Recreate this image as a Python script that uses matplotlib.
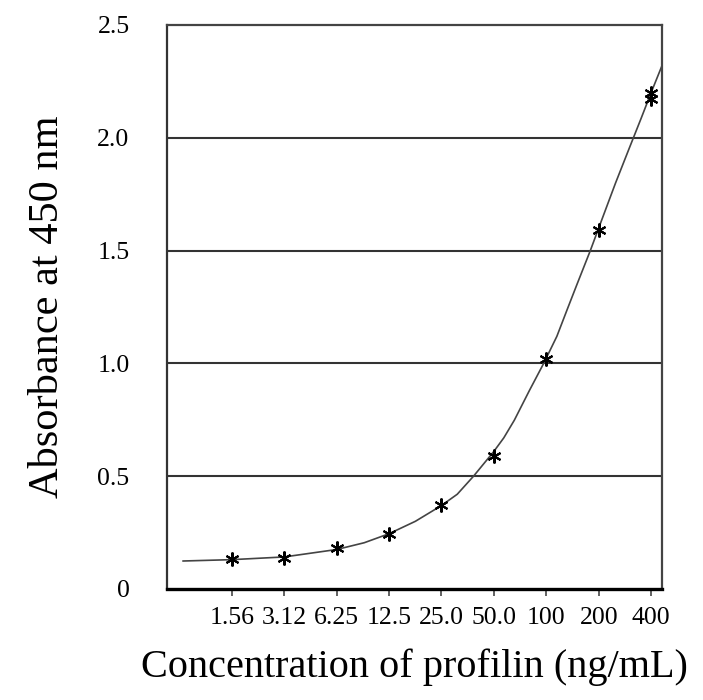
import matplotlib.pyplot as plt

plt.rcParams['font.family'] = ['Liberation Serif', 'DejaVu Serif']

# Standards (ng/mL) and tick labels
conc = [1.5625, 3.125, 6.25, 12.5, 25, 50, 100, 200, 400]
tick_labels = ['1.56', '3.12', '6.25', '12.5', '25.0', '50.0', '100', '200', '400']

# Measured absorbance (two replicates read at 400)
pt_x = [1.5625, 3.125, 6.25, 12.5, 25, 50, 100, 200, 400, 400]
pt_y = [0.131, 0.136, 0.18, 0.242, 0.372, 0.589, 1.02, 1.59, 2.20, 2.17]

# Fitted curve
curve_x = [0.82, 1.5625, 3.125, 6.25, 9.0, 12.5, 17.7, 25, 30.8, 38.2, 50, 57,
           65.5, 80, 96.6, 115, 132, 150, 179, 200, 250, 300, 350, 400, 462]
curve_y = [0.124, 0.13, 0.142, 0.175, 0.205, 0.245, 0.30, 0.37, 0.42, 0.50, 0.61,
           0.67, 0.748, 0.88, 1.0, 1.12, 1.24, 1.35, 1.5, 1.6, 1.8, 1.955, 2.085,
           2.2, 2.32]

fig = plt.figure(figsize=(7.03, 7.0), dpi=100)
ax = fig.add_axes([0.2376, 0.1586, 0.7041, 0.8057])

ax.set_xscale('log', base=2)
ax.set_xlim(0.663, 462)
ax.set_ylim(0, 2.5)

for g in [0.5, 1.0, 1.5, 2.0]:
    ax.axhline(g, color='#333333', linewidth=1.5, zorder=1)

ax.plot(curve_x, curve_y, color='#444444', linewidth=1.2, zorder=2)
ax.plot(pt_x, pt_y, linestyle='none', marker=(6, 2, 0), markersize=10,
        markeredgewidth=1.5, color='black', zorder=3)

ax.set_xticks(conc)
ax.set_xticklabels(tick_labels)
ax.xaxis.set_minor_locator(plt.NullLocator())
ax.set_yticks([0, 0.5, 1.0, 1.5, 2.0, 2.5])
ax.set_yticklabels(['0', '0.5', '1.0', '1.5', '2.0', '2.5'])

ax.tick_params(axis='x', direction='out', length=5, width=1.3, pad=8,
               labelsize=18.5, color='#555555')
ax.tick_params(axis='y', length=0, pad=27, labelsize=18.5)

ax.spines['bottom'].set_linewidth(2.4)
ax.spines['left'].set_linewidth(1.6)
for s in ['top', 'right']:
    ax.spines[s].set_linewidth(1.6)
    ax.spines[s].set_color('#444444')
ax.spines['left'].set_color('#333333')

ax.set_xlabel('Concentration of profilin (ng/mL)', fontsize=29, labelpad=14)
ax.set_ylabel('Absorbance at 450 nm', fontsize=30.5, labelpad=22)

fig.savefig('out.png', dpi=100)
